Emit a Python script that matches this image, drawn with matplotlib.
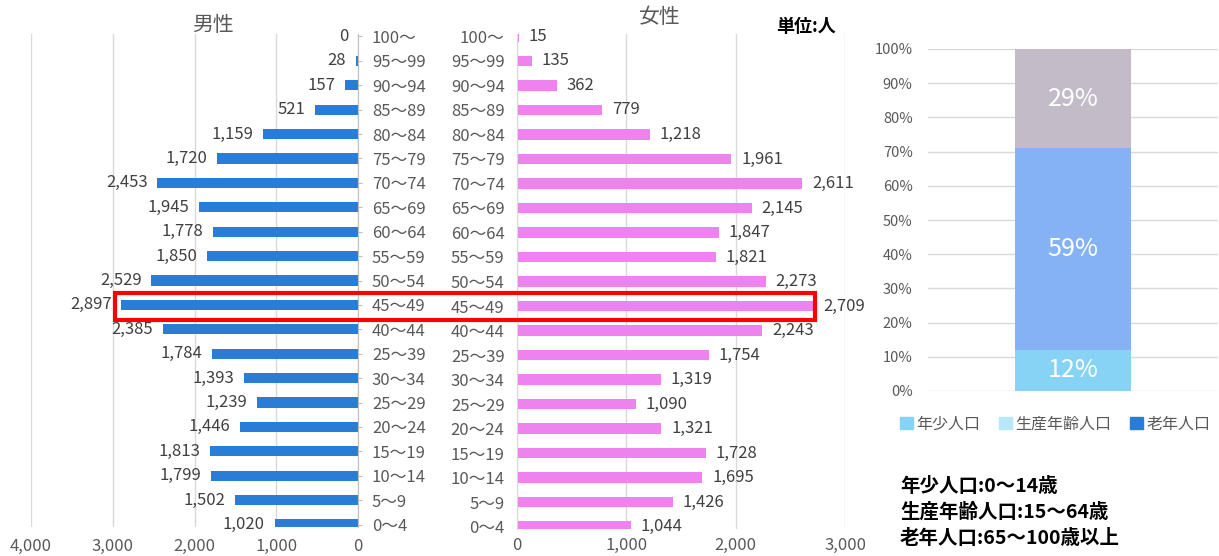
import numpy as np
import matplotlib.pyplot as plt
from matplotlib.patches import Rectangle, Patch

plt.rcParams['font.family'] = ['Noto Sans CJK JP', 'DejaVu Sans']

# Age groups (top to bottom, as printed in the source chart)
age_groups = ['100～', '95～99', '90～94', '85～89', '80～84', '75～79', '70～74',
              '65～69', '60～64', '55～59', '50～54', '45～49', '40～44', '25～39',
              '30～34', '25～29', '20～24', '15～19', '10～14', '5～9', '0～4']
male = [0, 28, 157, 521, 1159, 1720, 2453, 1945, 1778, 1850, 2529, 2897, 2385,
        1784, 1393, 1239, 1446, 1813, 1799, 1502, 1020]
female = [15, 135, 362, 779, 1218, 1961, 2611, 2145, 1847, 1821, 2273, 2709, 2243,
          1754, 1319, 1090, 1321, 1728, 1695, 1426, 1044]
highlight = '45～49'

male_ticks = [4000, 3000, 2000, 1000, 0]
female_ticks = [0, 1000, 2000, 3000]

share_names = ['年少人口', '生産年齢人口', '老年人口']
share_values = [12, 59, 29]
share_colors = ['#87D3F5', '#85B2F4', '#C3BCC8']
legend_colors = ['#87D3F5', '#B8E6FA', '#2A7DD6']

notes = ['年少人口:0～14歳', '生産年齢人口:15～64歳', '老年人口:65～100歳以上']

W, H = 1219, 556
fig = plt.figure(figsize=(W / 100, H / 100), dpi=100)


def box(l, t, r, b):
    return [l / W, 1 - b / H, (r - l) / W, (b - t) / H]


grey = '#595959'
grid_c = '#D9D9D9'
fs = 12
y = np.arange(len(age_groups))

# Male side
axm = fig.add_axes(box(31, 34, 358, 527))
axm.barh(y, male, height=0.42, color='#2A7DD6')
axm.set_xlim(4000, 0)
axm.set_ylim(20.1, -0.1)
axm.set_xticks(male_ticks)
axm.set_xticklabels([f'{v:,}' for v in male_ticks])
axm.yaxis.tick_right()
axm.set_yticks(y)
axm.set_yticklabels(age_groups, ha='left')
axm.tick_params(axis='y', direction='out', length=3, color='#BFBFBF', pad=7,
                labelsize=fs, labelcolor=grey)
axm.tick_params(axis='x', length=0, pad=8, labelsize=fs, labelcolor=grey)
axm.grid(axis='x', color=grid_c, lw=1)
axm.set_axisbelow(True)
for s in ['top', 'left', 'bottom']:
    axm.spines[s].set_visible(False)
axm.spines['right'].set_color('#BFBFBF')
for i, v in enumerate(male):
    axm.annotate(f'{v:,}', (v, i), xytext=(-7, 0), textcoords='offset points',
                 ha='right', va='center', fontsize=fs, color='#404040')

# Female side
axf = fig.add_axes(box(517, 34, 845, 529))
axf.barh(y, female, height=0.42, color='#EE82EE')
axf.set_xlim(0, 3000)
axf.set_ylim(20.1, -0.1)
axf.set_xticks(female_ticks)
axf.set_xticklabels([f'{v:,}' for v in female_ticks])
axf.set_yticks(y)
axf.set_yticklabels(age_groups)
axf.tick_params(axis='y', length=0, pad=9, labelsize=fs, labelcolor=grey)
axf.tick_params(axis='x', length=0, pad=6, labelsize=fs, labelcolor=grey)
axf.grid(axis='x', color=grid_c, lw=1)
axf.set_axisbelow(True)
for s in ['top', 'right', 'bottom']:
    axf.spines[s].set_visible(False)
axf.spines['left'].set_color(grid_c)
for i, v in enumerate(female):
    axf.annotate(f'{v:,}', (v, i), xytext=(7, 0), textcoords='offset points',
                 ha='left', va='center', fontsize=fs, color='#404040')

fig.text(213 / W, 1 - 25 / H, '男性', ha='center', va='center', fontsize=15, color=grey)
fig.text(660 / W, 1 - 17 / H, '女性', ha='center', va='center', fontsize=15, color=grey)
fig.text(806 / W, 1 - 27 / H, '単位:人', ha='center', va='center', fontsize=13,
         fontweight='bold', color='black')

# Red highlight box around the 45-49 row
hi = age_groups.index(highlight)
to_fig = fig.transFigure.inverted()
x0, y0 = to_fig.transform(axm.transData.transform((2975, hi + 0.6)))
x1, y1 = to_fig.transform(axf.transData.transform((2725, hi - 0.55)))
fig.patches.append(Rectangle((x0, y0), x1 - x0, y1 - y0, transform=fig.transFigure,
                             fill=False, edgecolor='#FF0000', lw=3, zorder=10))

# Stacked share bar
axr = fig.add_axes(box(928, 49, 1218, 391))
bottom = 0
for name, v, c in zip(share_names, share_values, share_colors):
    axr.bar(0, v, bottom=bottom, width=0.4, color=c)
    axr.text(0, bottom + v / 2, f'{v}%', ha='center', va='center', fontsize=18,
             color='white')
    bottom += v
axr.set_xlim(-0.5, 0.5)
axr.set_ylim(0, 100)
axr.set_yticks(range(0, 101, 10))
axr.set_yticklabels([f'{t}%' for t in range(0, 101, 10)])
axr.set_xticks([])
axr.tick_params(axis='y', length=0, pad=11, labelsize=10.5, labelcolor=grey)
axr.grid(axis='y', color=grid_c, lw=1)
axr.set_axisbelow(True)
for s in axr.spines.values():
    s.set_visible(False)

handles = [Patch(color=c, label=n) for n, c in zip(share_names, legend_colors)]
fig.legend(handles=handles, loc='center', bbox_to_anchor=(1055 / W, 1 - 424 / H),
           ncol=3, frameon=False, fontsize=11.5, handlelength=0.8, handleheight=0.8,
           handletextpad=0.2, columnspacing=1.2, labelcolor=grey)

for k, line in enumerate(notes):
    fig.text(900 / W, 1 - (486 + 26 * k) / H, line, ha='left', va='center',
             fontsize=14, fontweight='bold', color='black')

fig.savefig('out.png', dpi=100)
